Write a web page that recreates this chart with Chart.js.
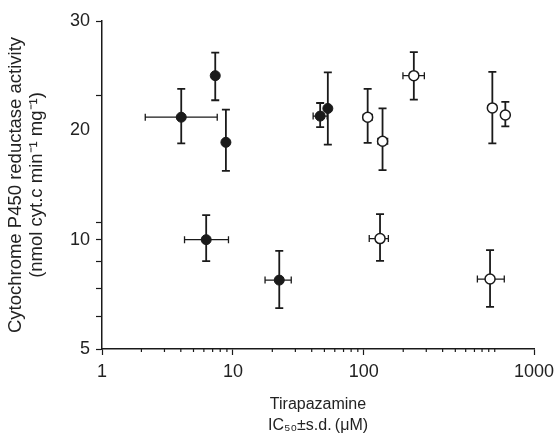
<!DOCTYPE html>
<html>
<head>
<meta charset="utf-8">
<script src="https://cdn.jsdelivr.net/npm/chart.js@4.4.1/dist/chart.umd.min.js"></script>
<style>
  html, body { margin: 0; padding: 0; background: #fff; }
  #wrap { width: 556px; height: 441px; }
</style>
</head>
<body>
<div id="wrap"><canvas id="ic50Chart"></canvas></div>
<script>
// Tirapazamine IC50 (x, µM) vs cytochrome P450 reductase activity (y)
// closed circles
const filledX    = [4.03, 7.33, 8.84, 6.25, 22.6, 46.4, 53.1];
const filledXLo  = [2.14, null, null, 4.27, 17.6, 41.0, null];
const filledXHi  = [7.59, null, null, 9.25, 27.9, 52.5, null];
const filledY    = [21.2, 25.0, 18.9, 10.0, 8.15, 21.3, 22.0];
const filledYLo  = [18.8, 22.75, 16.3, 9.02, 6.87, 20.3, 18.7];
const filledYHi  = [23.8, 27.1, 21.9, 12.25, 9.49, 22.5, 25.3];

// open circles
const openX   = [107, 139, 241, 959, 1205, 133, 921];
const openXLo = [99, 128, 199, null, null, 110, 737];
const openXHi = [116, 152, 290, null, null, 154, 1183];
const openY   = [21.2, 19.0, 25.0, 22.05, 21.4, 10.1, 8.2];
const openYLo = [18.85, 16.36, 22.8, 18.8, 20.37, 9.03, 6.93];
const openYHi = [23.8, 22.0, 27.16, 25.34, 22.6, 12.34, 9.52];

// axes
const yLabels = [5, 10, 20, 30];
const yTicks  = [5, 6.5, 7.75, 9, 10, 11.6, 20, 23.2, 30];
const xEnd = Math.pow(10, 3.3);
const xLabelValues = [1, 10, 100, xEnd];
const xLabelTexts  = ['1', '10', '100', '1000'];

const xTicks = [];
for (const d of [1, 10, 100]) {
    for (let k = 1; k <= 9; k++) xTicks.push(k * d);
}
xTicks.push(1000, xEnd);

// the y axis of the figure puts 5, 10, 20 and 30 at equal steps
class StepScale extends Chart.LinearScale {
    buildTicks() {
        return yTicks.map(v => ({ value: v, major: yLabels.includes(v) }));
    }
    getPixelForValue(value) {
        if (value == null || isNaN(value)) return NaN;
        const n = yLabels.length - 1;
        let i = 0;
        while (i < n - 1 && value > yLabels[i + 1]) i++;
        const f = (i + (value - yLabels[i]) / (yLabels[i + 1] - yLabels[i])) / n;
        return this.getPixelForDecimal(f);
    }
    getValueForPixel(pixel) {
        const n = yLabels.length - 1;
        const d = this.getDecimalForPixel(pixel) * n;
        const i = Math.min(Math.max(Math.floor(d), 0), n - 1);
        return yLabels[i] + (d - i) * (yLabels[i + 1] - yLabels[i]);
    }
}
StepScale.id = 'steps';
StepScale.defaults = Chart.LinearScale.defaults;
Chart.register(StepScale);

function toPoints(xs, xlo, xhi, ys, ylo, yhi) {
    return xs.map((x, i) => ({
        x: x, y: ys[i],
        xMin: xlo[i], xMax: xhi[i],
        yMin: ylo[i], yMax: yhi[i]
    }));
}

const ink = '#1a1a1a';
const fontFamily = 'Liberation Sans, Arial, sans-serif';

// error bars, drawn under the markers
const errorBars = {
    id: 'errorBars',
    beforeDatasetsDraw(chart) {
        const { ctx, scales: { x, y } } = chart;
        ctx.save();
        ctx.strokeStyle = ink;
        chart.data.datasets.forEach(ds => {
            ds.data.forEach(p => {
                const px = x.getPixelForValue(p.x);
                const py = y.getPixelForValue(p.y);
                if (p.yMin != null) {
                    const y1 = y.getPixelForValue(p.yMin);
                    const y2 = y.getPixelForValue(p.yMax);
                    ctx.lineWidth = 1.8;
                    ctx.beginPath();
                    ctx.moveTo(px, y1); ctx.lineTo(px, y2);
                    ctx.moveTo(px - 4, y1); ctx.lineTo(px + 4, y1);
                    ctx.moveTo(px - 4, y2); ctx.lineTo(px + 4, y2);
                    ctx.stroke();
                }
                if (p.xMin != null) {
                    const x1 = x.getPixelForValue(p.xMin);
                    const x2 = x.getPixelForValue(p.xMax);
                    ctx.lineWidth = 1.3;
                    ctx.beginPath();
                    ctx.moveTo(x1, py); ctx.lineTo(x2, py);
                    ctx.moveTo(x1, py - 3.5); ctx.lineTo(x1, py + 3.5);
                    ctx.moveTo(x2, py - 3.5); ctx.lineTo(x2, py + 3.5);
                    ctx.stroke();
                }
            });
        });
        ctx.restore();
    }
};

// short minor ticks on the x axis
const minorTicks = {
    id: 'minorTicks',
    afterDraw(chart) {
        const { ctx, scales: { x } } = chart;
        ctx.save();
        ctx.strokeStyle = ink;
        ctx.lineWidth = 1.2;
        ctx.beginPath();
        x.ticks.forEach(t => {
            if (t.major) return;
            const px = x.getPixelForValue(t.value);
            ctx.moveTo(px, x.top);
            ctx.lineTo(px, x.top + 3);
        });
        ctx.stroke();
        ctx.restore();
    }
};

const ctx = document.getElementById('ic50Chart').getContext('2d');

new Chart(ctx, {
    type: 'scatter',
    data: {
        datasets: [{
            label: 'filled',
            data: toPoints(filledX, filledXLo, filledXHi, filledY, filledYLo, filledYHi),
            pointRadius: 5,
            pointBackgroundColor: ink,
            pointBorderColor: ink,
            pointBorderWidth: 1
        }, {
            label: 'open',
            data: toPoints(openX, openXLo, openXHi, openY, openYLo, openYHi),
            pointRadius: 5,
            pointBackgroundColor: '#fff',
            pointBorderColor: ink,
            pointBorderWidth: 1.5
        }]
    },
    options: {
        responsive: true,
        maintainAspectRatio: false,
        animation: false,
        devicePixelRatio: 1,
        layout: { padding: { top: 21, right: 22, left: 0, bottom: 0 } },
        plugins: {
            legend: { display: false },
            tooltip: { enabled: false }
        },
        scales: {
            x: {
                type: 'logarithmic',
                min: 1,
                max: xEnd,
                afterBuildTicks: s => {
                    s.ticks = xTicks.map(v => ({ value: v, major: xLabelValues.includes(v) }));
                },
                afterFit: s => {
                    s.height = 92;
                    s.paddingLeft = 0;
                    s.paddingRight = 0;
                },
                border: { display: true, color: ink, width: 1.5 },
                grid: {
                    drawOnChartArea: false,
                    drawTicks: true,
                    tickLength: 6,
                    tickWidth: 1.2,
                    tickColor: c => (c.tick && c.tick.major) ? ink : 'rgba(0,0,0,0)'
                },
                ticks: {
                    autoSkip: false,
                    maxRotation: 0,
                    padding: 6,
                    color: '#222',
                    font: { family: fontFamily, size: 18 },
                    callback: v => {
                        const i = xLabelValues.indexOf(v);
                        return i >= 0 ? xLabelTexts[i] : '';
                    }
                },
                title: {
                    display: true,
                    text: ['Tirapazamine', 'IC\u2085\u2080\u00b1s.d.\u2009(\u03bcM)'],
                    color: '#222',
                    font: { family: fontFamily, size: 16, lineHeight: 1.3 },
                    padding: { top: 0, bottom: 5 }
                }
            },
            y: {
                type: 'steps',
                min: 5,
                max: 30,
                afterFit: s => { s.width = 102; },
                border: { display: true, color: ink, width: 1.5 },
                grid: {
                    drawOnChartArea: false,
                    drawTicks: true,
                    tickLength: 6,
                    tickWidth: 1.2,
                    tickColor: c => (c.tick && c.tick.value === 20) ? 'rgba(0,0,0,0)' : ink
                },
                ticks: {
                    autoSkip: false,
                    padding: 6,
                    color: '#222',
                    font: { family: fontFamily, size: 18 },
                    callback: v => yLabels.includes(v) ? String(v) : ''
                },
                title: {
                    display: true,
                    text: ['Cytochrome P450 reductase activity', '(nmol cyt.c min\u207b\u00b9 mg\u207b\u00b9)'],
                    color: '#222',
                    font: { family: fontFamily, size: 18.5, lineHeight: 1.15 },
                    padding: { top: 5, bottom: 0 }
                }
            }
        }
    },
    plugins: [errorBars, minorTicks]
});
</script>
</body>
</html>
